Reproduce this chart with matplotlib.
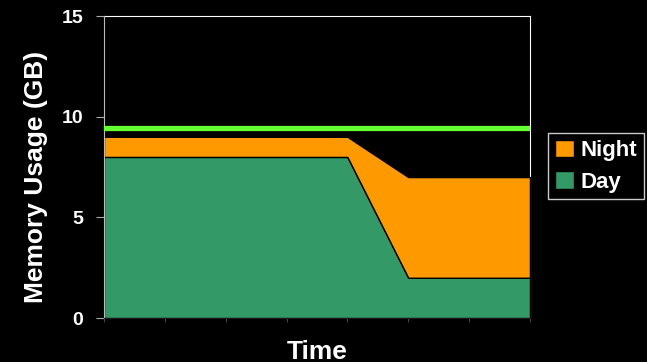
import matplotlib.pyplot as plt
import numpy as np

# chart data
time_idx = np.arange(8)
day = [8, 8, 8, 8, 8, 2, 2, 2]
night = [1, 1, 1, 1, 1, 5, 5, 5]
limit = 9.45
yticks = [0, 5, 10, 15]

plt.rcParams['font.family'] = ['Liberation Sans', 'DejaVu Sans']
plt.rcParams['font.weight'] = 'bold'

fig = plt.figure(figsize=(6.47, 3.62), dpi=100, facecolor='black')
ax = fig.add_axes([0.1607, 0.1215, 0.6584, 0.8343])
ax.set_facecolor('black')

day = np.array(day)
total = day + np.array(night)

ax.fill_between(time_idx, 0, day, color='#339966', edgecolor='black', linewidth=1, label='Day', zorder=2)
ax.fill_between(time_idx, day, total, color='#FF9900', edgecolor='black', linewidth=1, label='Night', zorder=2)
ax.plot([time_idx[0], time_idx[-1] - 0.05], [limit, limit], color='#66FF33', linewidth=3.8, zorder=3)

ax.set_xlim(time_idx[0], time_idx[-1])
ax.set_ylim(0, 15)
ax.set_yticks(yticks)
ax.set_xticks(time_idx)
ax.set_xticklabels([])

for s in ['top', 'right']:
    ax.spines[s].set_color('white')
    ax.spines[s].set_zorder(1)
ax.spines['left'].set_color('#bbbbbb')
ax.spines['bottom'].set_color('#1a1a1a')
ax.tick_params(axis='y', colors='#aaaaaa', labelcolor='white', labelsize=14, length=5.8, pad=9, direction='out')
ax.tick_params(axis='x', colors='#444444', length=3, direction='out')

ax.set_ylabel('Memory Usage (GB)', color='white', fontsize=19, fontweight='bold')
ax.yaxis.set_label_coords(-0.132, 0.467)
ax.set_xlabel('Time', color='white', fontsize=19, fontweight='bold', labelpad=9)

handles, labels = ax.get_legend_handles_labels()
leg = fig.legend(handles[::-1], labels[::-1], loc='upper left', bbox_to_anchor=(0.847, 0.633),
                 frameon=True, facecolor='black', edgecolor='white', fancybox=False,
                 handlelength=0.85, handleheight=0.85, handletextpad=0.3, borderpad=0.3,
                 borderaxespad=0, labelspacing=0.45, prop={'size': 16, 'weight': 'bold'})
for t in leg.get_texts():
    t.set_color('white')

fig.savefig('out.png', dpi=100, facecolor='black')
